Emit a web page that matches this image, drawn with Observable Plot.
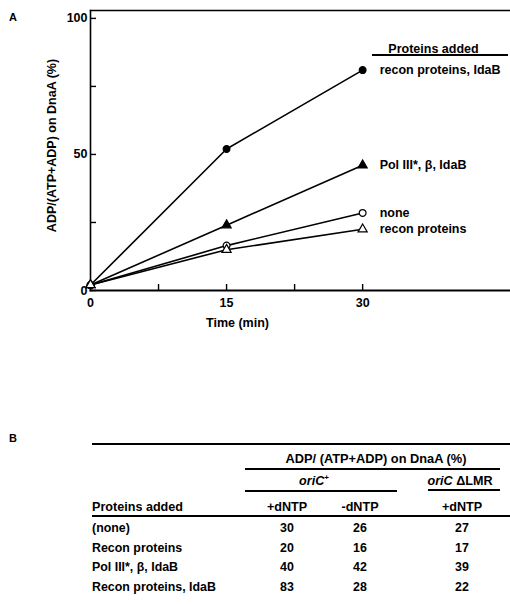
<!DOCTYPE html>
<html><head><meta charset="utf-8">
<script src="https://cdn.jsdelivr.net/npm/d3@7"></script>
<script src="https://cdn.jsdelivr.net/npm/@observablehq/plot@0.6"></script>
<style>
body{margin:0;background:#fff;}
#wrap{position:relative;width:510px;height:605px;overflow:hidden;font-family:"Liberation Sans",Arial,Helvetica,sans-serif;color:#000;background:#fff;}
.t{position:absolute;white-space:nowrap;line-height:1;font-weight:bold;font-size:12.4px;}
.c{transform:translate(-50%,-50%);}
.l{transform:translate(0,-50%);}
.rule{position:absolute;background:#000;}
</style></head><body><div id="wrap"></div>
<script>
// ---- Panel A data ----
const times = [0, 15, 30];
const seriesNames = ["recon proteins, IdaB", "Pol III*, β, IdaB", "none", "recon proteins"];
const reconIdaB = [2, 52, 81];
const polIIIbetaIdaB = [2, 24, 46];
const noneAdded = [2, 16.5, 28.5];
const reconOnly = [2, 15, 22.5];
const seriesSymbols = ["circle", "triangle", "circle", "triangle"];
const seriesFills = ["black", "black", "white", "white"];
const yTicks = [0, 50, 100];
const yTicksAll = [0, 25, 50, 75, 100];
const xTicks = [0, 15, 30];
const xTicksAll = [0, 7.5, 15, 22.5, 30];
const yLabel = "ADP/(ATP+ADP) on DnaA (%)";
const xLabel = "Time (min)";
const legendTitle = "Proteins added";

// ---- Panel B data ----
const tableRows = ["(none)", "Recon proteins", "Pol III*, β, IdaB", "Recon proteins, IdaB"];
const oriPlusWithDNTP = [30, 20, 40, 83];
const oriPlusWithoutDNTP = [26, 16, 42, 28];
const deltaLMRWithDNTP = [27, 17, 39, 22];
const columnHeads = ["+dNTP", "-dNTP", "+dNTP"];

const seriesValues = [reconIdaB, polIIIbetaIdaB, noneAdded, reconOnly];
const data = [];
seriesNames.forEach((s, i) => times.forEach((t, j) => data.push({
  series: s, time: t, value: seriesValues[i][j], symbol: seriesSymbols[i], fill: seriesFills[i]
})));
const last = data.filter(d => d.time === times[times.length - 1]);

const font = '"Liberation Sans",Arial,Helvetica,sans-serif';
const wrap = document.getElementById("wrap");

const chart = Plot.plot({
  width: 510, height: 340,
  marginLeft: 90, marginRight: 0, marginTop: 10, marginBottom: 50,
  x: {domain: [0, 46.3], axis: null},
  y: {domain: [0, 102.9], axis: null},
  style: {fontFamily: font, fontSize: "12px", fontWeight: "bold", color: "black", background: "white", overflow: "visible"},
  marks: [
    Plot.frame({anchor: "left", strokeWidth: 1.6}),
    Plot.frame({anchor: "top", strokeWidth: 1.4}),
    Plot.frame({anchor: "bottom", strokeWidth: 2}),
    Plot.axisY(yTicksAll, {tickSize: -6, strokeWidth: 1.4, tickFormat: () => "", label: null}),
    Plot.axisX(xTicksAll, {tickSize: -6, strokeWidth: 1.4, tickFormat: () => "", label: null}),
    Plot.axisY(yTicks, {tickSize: 0, tickPadding: 3, fontSize: 12.5, fontWeight: "bold", label: null}),
    Plot.axisX(xTicks, {tickSize: 0, tickPadding: 8, fontSize: 12.5, fontWeight: "bold", label: null}),
    Plot.text([yLabel], {frameAnchor: "left", textAnchor: "middle", rotate: -90, dx: -39, dy: -5, fontSize: 12.5, fontWeight: "bold"}),
    Plot.text([xLabel], {frameAnchor: "bottom", textAnchor: "middle", dx: -63, dy: 36, fontSize: 12.5, fontWeight: "bold"}),
    Plot.line(data, {x: "time", y: "value", z: "series", stroke: "black", strokeWidth: 1.6}),
    Plot.dot(data, {x: "time", y: "value", symbol: "symbol", fill: "fill", stroke: "black", r: 3.4, strokeWidth: 1.2}),
    Plot.text(last, {x: "time", y: "value", text: "series", textAnchor: "start", dx: 17, fontSize: 12.5, fontWeight: "bold"}),
    Plot.text([legendTitle], {frameAnchor: "top-right", textAnchor: "middle", dx: -77, dy: 34, fontSize: 12.5, fontWeight: "bold"})
  ]
});
chart.style.position = "absolute";
chart.style.left = "0px";
chart.style.top = "0px";
wrap.appendChild(chart);

function place(html, x, y, cls, extra) {
  const d = document.createElement("div");
  d.className = "t " + cls;
  d.innerHTML = html;
  d.style.left = x + "px";
  d.style.top = y + "px";
  if (extra) Object.assign(d.style, extra);
  wrap.appendChild(d);
  return d;
}
function rule(x1, x2, y, h) {
  const d = document.createElement("div");
  d.className = "rule";
  d.style.left = x1 + "px";
  d.style.width = (x2 - x1) + "px";
  d.style.top = (y - h / 2) + "px";
  d.style.height = h + "px";
  wrap.appendChild(d);
}

// panel letters
place("A", 13, 17, "c", {fontSize: "11px"});
place("B", 13, 438, "c", {fontSize: "11px"});
// legend underline
rule(372, 508, 55, 1.6);

// ---- table (panel B) ----
const tLeft = 92, colX = [287, 360, 462];
const rowY = [528, 548, 567, 587];
rule(tLeft, 510, 444, 1.2);
place("ADP/ (ATP+ADP) on DnaA (%)", 376, 459, "c", {fontSize: "12.8px"});
rule(245, 500, 469, 1.4);
place('<i>oriC</i><sup style="font-size:8px;vertical-align:5px">+</sup>', 314, 481, "c", {fontSize: "12.6px"});
rule(245, 397, 491, 1.4);
place('<i>oriC</i> ΔLMR', 460, 481, "c", {fontSize: "12.6px"});
rule(428, 500, 490, 1.4);
place("Proteins added", tLeft, 507, "l", {fontSize: "12.6px"});
columnHeads.forEach((h, i) => place(h, colX[i], 507, "c", {fontSize: "12.6px"}));
rule(tLeft, 510, 516, 1.6);
const cols = [oriPlusWithDNTP, oriPlusWithoutDNTP, deltaLMRWithDNTP];
tableRows.forEach((r, i) => {
  place(r, tLeft, rowY[i], "l");
  cols.forEach((c, j) => place(String(c[i]), colX[j], rowY[i], "c"));
});
</script></body></html>
